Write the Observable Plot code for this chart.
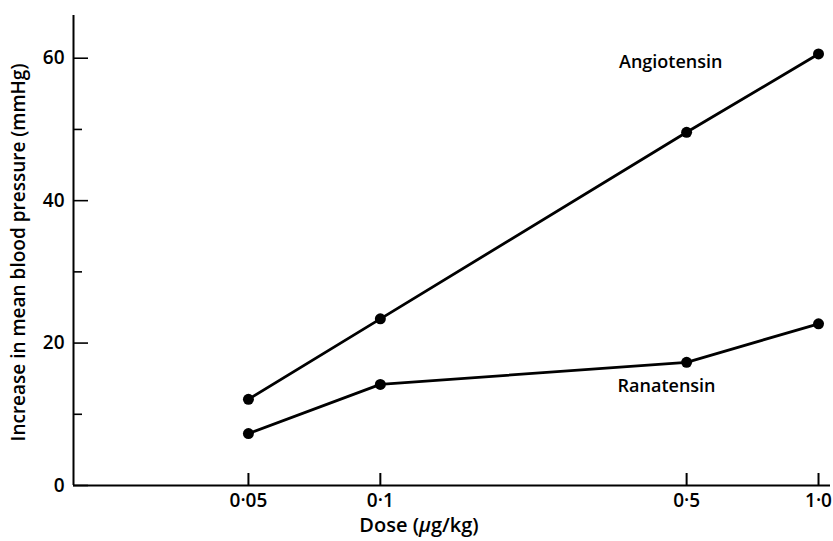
<!DOCTYPE html>
<html><head><meta charset="utf-8">
<script src="https://cdn.jsdelivr.net/npm/d3@7"></script>
<script src="https://cdn.jsdelivr.net/npm/@observablehq/plot@0.6"></script>
<style>body{margin:0;background:#fff}</style>
</head><body><div id="chart"></div>
<script>
const doses = [0.05, 0.1, 0.5, 1.0];
const doseLabels = ["0·05", "0·1", "0·5", "1·0"];
const angiotensin = [12.1, 23.4, 49.6, 60.6];
const ranatensin = [7.3, 14.2, 17.3, 22.7];
const seriesNames = ["Angiotensin", "Ranatensin"];
const yMajor = [0, 20, 40, 60];
const yMinor = [10, 30, 50];
const xTitle = "Dose (μg/kg)";
const yTitle = "Increase in mean blood pressure (mmHg)";

const rows = [
  ...doses.map((d, i) => ({dose: d, value: angiotensin[i], series: seriesNames[0]})),
  ...doses.map((d, i) => ({dose: d, value: ranatensin[i], series: seriesNames[1]}))
];
const xDomain = [0.01994, 1.065];
const font = "'Open Sans', Lato, sans-serif";

const svg = Plot.plot({
  width: 833,
  height: 541,
  marginLeft: 73,
  marginRight: 3,
  marginTop: 15,
  marginBottom: 56,
  x: {type: "log", domain: xDomain},
  y: {domain: [0, 66]},
  style: {fontFamily: font, fontSize: "17px", color: "#000", background: "#fff", fontWeight: 600},
  marks: [
    Plot.ruleY([0], {strokeWidth: 2}),
    Plot.ruleX([xDomain[0]], {strokeWidth: 2}),
    Plot.axisX(doses, {tickSize: -12, tickPadding: 20, strokeWidth: 2,
      tickFormat: d => doseLabels[doses.indexOf(d)], fontSize: 19, label: null}),
    Plot.axisY(yMajor, {tickSize: -15, tickPadding: 24, strokeWidth: 1.6,
      tickFormat: d => String(d), fontSize: 19, label: null}),
    Plot.axisY(yMinor, {tickSize: -9, strokeWidth: 1.6, tickFormat: () => "", label: null}),
    Plot.line(rows, {x: "dose", y: "value", z: "series", stroke: "#000", strokeWidth: 2.8}),
    Plot.dot(rows, {x: "dose", y: "value", r: 5.5, fill: "#000", stroke: "none"}),
    Plot.text([seriesNames[0]], {x: 0.46, y: 59.4, fontSize: 18}),
    Plot.text([seriesNames[1]], {x: 0.45, y: 14.0, fontSize: 18}),
    Plot.text([xTitle], {frameAnchor: "bottom", dy: 40, dx: -33, fontSize: 20,
      textAnchor: "middle", lineAnchor: "middle"}),
    Plot.text([yTitle], {frameAnchor: "left", rotate: -90, dx: -55, dy: 2, fontSize: 19,
      textAnchor: "middle", lineAnchor: "middle"})
  ]
});

d3.select(svg).selectAll("text").filter(function() { return this.textContent === xTitle; })
  .each(function() {
    const t = d3.select(this);
    t.text("");
    t.append("tspan").text("Dose (");
    t.append("tspan").style("font-style", "italic").text("μ");
    t.append("tspan").text("g/kg)");
  });

document.getElementById("chart").appendChild(svg);
</script>
</body></html>
